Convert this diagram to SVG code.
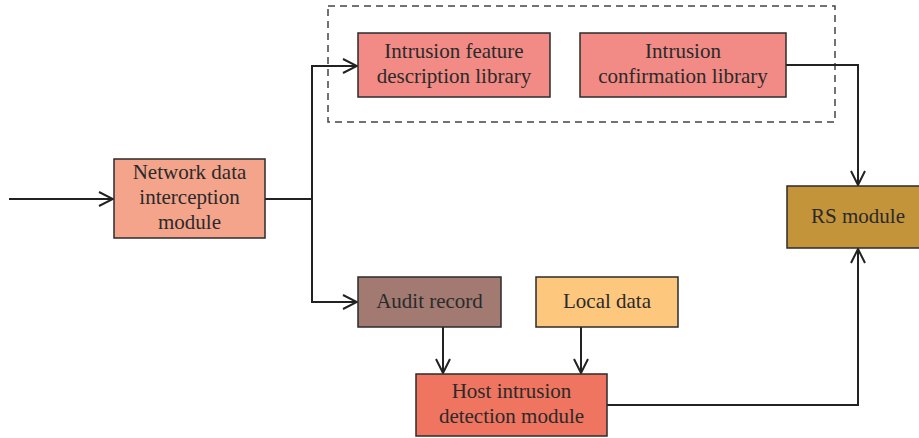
<svg xmlns="http://www.w3.org/2000/svg" width="919" height="438" viewBox="0 0 919 438">
  <style>
    .box { stroke: #2b2b2b; stroke-width: 1.5; }
    .lbl { font-family: "Liberation Serif", "Times New Roman", serif; font-size: 21px; fill: #2a2a2a; text-anchor: middle; }
    .wire { fill: none; stroke: #222; stroke-width: 2; }
  </style>
  <defs>
    <marker id="arrow" viewBox="0 0 16 18" refX="15" refY="9" markerWidth="16" markerHeight="18" markerUnits="userSpaceOnUse" orient="auto">
      <polyline points="1,2 15,9 1,16" fill="none" stroke="#222" stroke-width="2"/>
    </marker>
  </defs>

  <rect x="0" y="0" width="919" height="438" fill="#ffffff"/>

  <!-- dashed group around the libraries -->
  <rect x="328" y="6" width="507" height="116" fill="none" stroke="#444" stroke-width="1.5" stroke-dasharray="7,5"/>

  <g id="connectors">
    <line class="wire" x1="9" y1="199" x2="113" y2="199" marker-end="url(#arrow)"/>
    <polyline class="wire" points="265,199 312,199"/>
    <polyline class="wire" points="312,302 312,66 357,66" marker-end="url(#arrow)"/>
    <polyline class="wire" points="312,199 312,302 357,302" marker-end="url(#arrow)"/>
    <polyline class="wire" points="786,65 858,65 858,185" marker-end="url(#arrow)"/>
    <line class="wire" x1="443" y1="327" x2="443" y2="373" marker-end="url(#arrow)"/>
    <line class="wire" x1="581" y1="327" x2="581" y2="373" marker-end="url(#arrow)"/>
    <polyline class="wire" points="607,405 858,405 858,249" marker-end="url(#arrow)"/>
  </g>

  <g id="network-data-interception">
    <rect class="box" x="114" y="159" width="151" height="79" fill="#F5A48C"/>
    <text class="lbl" x="189.5" y="179">Network data</text>
    <text class="lbl" x="189.5" y="204">interception</text>
    <text class="lbl" x="189.5" y="229">module</text>
  </g>

  <g id="feature-library">
    <rect class="box" x="358" y="33" width="192" height="64" fill="#F28A85"/>
    <text class="lbl" x="454" y="58">Intrusion feature</text>
    <text class="lbl" x="454" y="83">description library</text>
  </g>

  <g id="confirmation-library">
    <rect class="box" x="580" y="33" width="206" height="64" fill="#F28A85"/>
    <text class="lbl" x="683" y="58">Intrusion</text>
    <text class="lbl" x="683" y="83">confirmation library</text>
  </g>

  <g id="rs-module">
    <rect class="box" x="787" y="186" width="134" height="62" fill="#C4943A"/>
    <text class="lbl" x="858" y="223">RS module</text>
  </g>

  <g id="audit-record">
    <rect class="box" x="358" y="277" width="143" height="50" fill="#A27A72"/>
    <text class="lbl" x="429.5" y="308">Audit record</text>
  </g>

  <g id="local-data">
    <rect class="box" x="536" y="277" width="142" height="50" fill="#FDC87E"/>
    <text class="lbl" x="607" y="308">Local data</text>
  </g>

  <g id="host-intrusion-detection">
    <rect class="box" x="416" y="374" width="191" height="62" fill="#F07560"/>
    <text class="lbl" x="511.5" y="398">Host intrusion</text>
    <text class="lbl" x="511.5" y="423">detection module</text>
  </g>
</svg>
